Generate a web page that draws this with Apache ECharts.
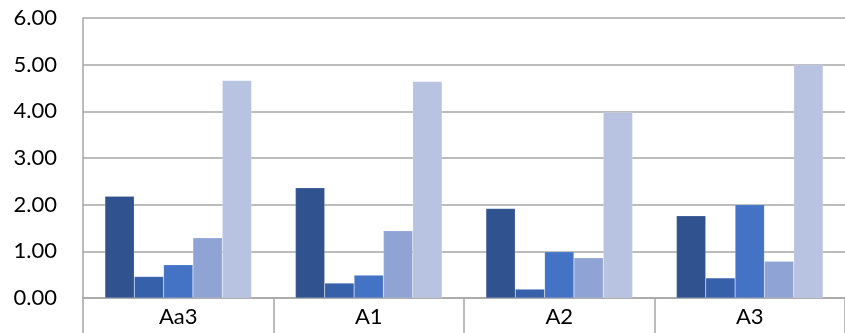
<!DOCTYPE html>
<html>
<head>
<meta charset="utf-8">
<script src="https://cdn.jsdelivr.net/npm/echarts@6/dist/echarts.min.js"></script>
<style>
  html, body { margin: 0; padding: 0; background: #fff; }
  #chart { width: 845px; height: 333px; }
</style>
</head>
<body>
<div id="chart"></div>
<script>
// Category groups along the x axis
const categories = ['Aa3', 'A1', 'A2', 'A3'];

// One array per bar series (five bars in each group)
const series1 = [2.18, 2.36, 1.92, 1.76];
const series2 = [0.46, 0.32, 0.19, 0.43];
const series3 = [0.71, 0.49, 0.99, 2.00];
const series4 = [1.29, 1.44, 0.86, 0.79];
const series5 = [4.66, 4.64, 3.98, 5.00];

const seriesData = [series1, series2, series3, series4, series5];
const seriesColors = ['#30538F', '#3760AB', '#4472C4', '#8FA4D5', '#B8C3E2'];

const chart = echarts.init(document.getElementById('chart'));

chart.setOption({
  animation: false,
  backgroundColor: '#ffffff',
  // plot area runs past the right edge, so the last group is cut off slightly
  grid: { left: 83, top: 18, width: 771, height: 280, containLabel: false },
  xAxis: {
    type: 'category',
    data: categories,
    boundaryGap: true,
    axisLine: { show: true, lineStyle: { color: '#A6A6A6', width: 1.5 } },
    axisTick: { show: true, alignWithLabel: false, length: 36, lineStyle: { color: '#A6A6A6', width: 1.5 } },
    axisLabel: {
      color: '#000',
      fontFamily: 'Lato',
      fontSize: 22,
      margin: 8
    },
    splitLine: { show: false }
  },
  yAxis: {
    type: 'value',
    min: 0,
    max: 6,
    interval: 1,
    axisLine: { show: true, lineStyle: { color: '#A6A6A6', width: 1.5 } },
    axisTick: { show: false },
    axisLabel: {
      color: '#000',
      fontFamily: 'Lato',
      fontSize: 22,
      margin: 26,
      formatter: v => v.toFixed(2)
    },
    splitLine: { show: true, lineStyle: { color: '#A6A6A6', width: 1.5 } }
  },
  series: seriesData.map((d, i) => ({
    type: 'bar',
    data: d,
    barGap: '0%',
    barCategoryGap: '23%',
    itemStyle: {
      color: seriesColors[i],
      borderColor: 'rgba(255,255,255,0.3)',
      borderWidth: 0.5
    }
  }))
});
</script>
</body>
</html>
